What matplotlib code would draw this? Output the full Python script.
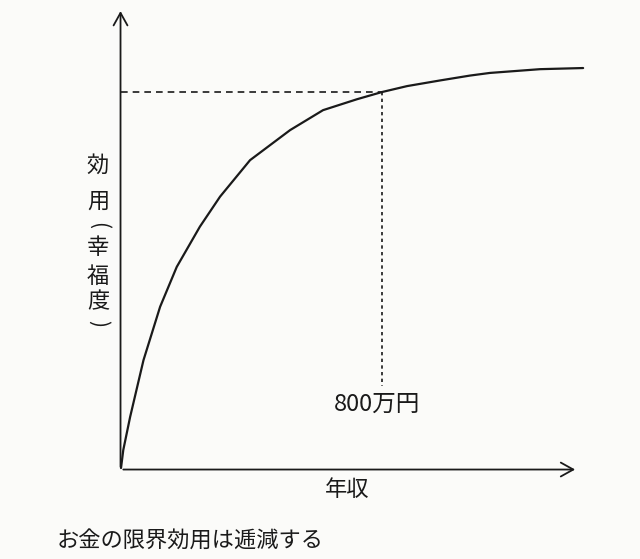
import numpy as np
import matplotlib.pyplot as plt

plt.rcParams['font.family'] = ['Noto Sans CJK JP', 'DejaVu Sans']

# 年収(万円) と 効用 (800万円のときを100とする)
income = [0, 7, 28, 69, 120, 171, 242, 304, 396, 519, 620, 724, 800,
          878, 979, 1071, 1132, 1286, 1418]
utility = [0, 4.8, 13.6, 28.7, 42.9, 53.5, 64.2, 72.2, 81.9, 89.9, 95.2, 98.1, 100,
           101.6, 103.1, 104.4, 105.1, 106.1, 106.4]
mark_income = 800
mark_utility = 100
mark_label = '800万円'
y_label = ['効', '用', '(', '幸', '福', '度', ')']
x_label = '年収'
caption = 'お金の限界効用は逓減する'

fig = plt.figure(figsize=(6.4, 5.59), dpi=100)
fig.patch.set_facecolor('#fbfbf9')
ax = fig.add_axes([0, 0, 1, 1])
ax.set_facecolor('#fbfbf9')
ax.set_xlim(-371.3, 1592.5)
ax.set_ylim(-24.2, 124.5)
ax.axis('off')

ink = '#1a1a1a'

# 軸 (矢印)
arrow = dict(arrowstyle='->,head_length=0.9,head_width=0.5', color=ink, lw=1.3)
ax.annotate('', xy=(-1.5, 122.3), xytext=(-1.5, -0.4), arrowprops=arrow)
ax.annotate('', xy=(1402, -0.4), xytext=(-1.5, -0.4), arrowprops=arrow)

# 曲線
ax.plot(income, utility, color=ink, lw=1.6, solid_capstyle='round', solid_joinstyle='round')

# 点線
ax.plot([0, mark_income], [mark_utility, mark_utility], color=ink, lw=1.2, dashes=(4, 3))
ax.plot([mark_income, mark_income], [mark_utility, 21.8], color=ink, lw=1.2, dashes=(2, 2))

ax.text(mark_income - 14, 17.0, mark_label, fontsize=17, ha='center', va='center', color=ink)

# 縦書きの軸ラベル (括弧は90度回転)
ys = [165, 201, 226, 247, 276, 302, 323]
for c, py in zip(y_label, ys):
    if c in '()':
        fig.text(98 / 640, 1 - py / 559, c, fontsize=15, ha='center', va='center',
                 rotation=-90, color=ink)
    else:
        fig.text(98 / 640, 1 - py / 559, c, fontsize=16, ha='center', va='center', color=ink)

fig.text(347 / 640, 1 - 490 / 559, x_label, fontsize=16, ha='center', va='center', color=ink)
fig.text(190 / 640, 1 - 541 / 559, caption, fontsize=16, ha='center', va='center', color=ink)

fig.savefig('out.png', dpi=100, facecolor=fig.get_facecolor())
